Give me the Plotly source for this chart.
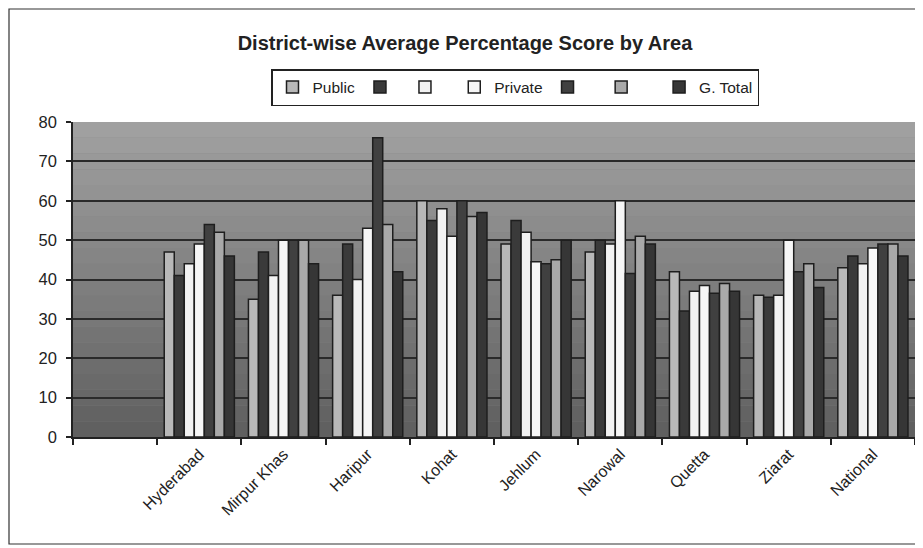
import plotly.graph_objects as go

districts = ["Hyderabad", "Mirpur Khas", "Haripur", "Kohat", "Jehlum",
             "Narowal", "Quetta", "Ziarat", "National"]
axis_categories = [" "] + districts

series_names = ["Public", "", " ", "Private", "  ", "   ", "G. Total"]
s1 = [47, 35, 36, 60, 49, 47, 42, 36, 43]
s2 = [41, 47, 49, 55, 55, 50, 32, 35.5, 46]
s3 = [44, 41, 40, 58, 52, 49, 37, 36, 44]
s4 = [49, 50, 53, 51, 44.5, 60, 38.5, 50, 48]
s5 = [54, 50, 76, 60, 44, 41.5, 36.5, 42, 49]
s6 = [52, 50, 54, 56, 45, 51, 39, 44, 49]
s7 = [46, 44, 42, 57, 50, 49, 37, 38, 46]
series_values = [s1, s2, s3, s4, s5, s6, s7]
series_colors = ["#b8b8b8", "#3a3a3a", "#f2f2f2", "#f6f6f6", "#404040", "#a9a9a9", "#363636"]

y_ticks = [0, 10, 20, 30, 40, 50, 60, 70, 80]

fig = go.Figure()
for name, vals, col in zip(series_names, series_values, series_colors):
    fig.add_trace(go.Bar(
        x=districts, y=vals, name=name,
        marker=dict(color=col, line=dict(color="#1e1e1e", width=1.5)),
        hoverinfo="x+y",
    ))

# page body has an 8px margin, so figure coordinates = screen - 8
OFF = 8
W, H = 923 - OFF, 548 - OFF
L, T = 73 - OFF, 122 - OFF
R = W - (915 - OFF)
B = H - (437 - OFF)

# graded plot-area background (scan look)
n_bands = 20
top_c, bot_c = 0xa0, 0x60
shapes = []
for i in range(n_bands):
    f = i / (n_bands - 1)
    v = int(round(bot_c + (top_c - bot_c) * f))
    shapes.append(dict(type="rect", xref="x domain", yref="y domain",
                       x0=0, x1=1, y0=i / n_bands, y1=(i + 1) / n_bands,
                       fillcolor=f"rgb({v},{v},{v})", line=dict(width=0),
                       layer="below"))
# outer chart border (figure-pixel positions converted to paper fractions)
pw, ph = W - L - R, H - T - B
bx0, bx1 = 1, 918 - OFF
by0, by1 = 1, 544 - OFF
shapes.append(dict(type="rect", xref="paper", yref="paper",
                   x0=(bx0 - L) / pw, x1=(bx1 - L) / pw,
                   y0=(H - B - by1) / ph, y1=(H - B - by0) / ph,
                   line=dict(color="#333333", width=1.2), fillcolor="rgba(0,0,0,0)",
                   layer="below"))

fig.update_layout(
    width=W, height=H,
    margin=dict(l=L, r=R, t=T, b=B, autoexpand=False),
    paper_bgcolor="white",
    plot_bgcolor="#808080",
    barmode="group",
    bargap=0.167,
    bargroupgap=0,
    font=dict(family="Liberation Sans, Arial", color="#222222"),
    title=dict(text="<b>District-wise Average Percentage Score by Area</b>",
               x=(465 - OFF) / W, xanchor="center", y=1 - (43 - OFF) / H, yanchor="middle",
               yref="container", xref="container",
               font=dict(size=20, color="#222222")),
    legend=dict(orientation="h", x=(515 - OFF - L) / pw, xanchor="center",
                y=1 + (T - (69 - OFF)) / ph, yanchor="top",
                bgcolor="white", bordercolor="#222222", borderwidth=1.5,
                font=dict(size=15.5, color="#222222"),
                itemwidth=30, tracegroupgap=0),
    shapes=shapes,
    showlegend=True,
)
fig.update_xaxes(type="category", categoryorder="array", categoryarray=axis_categories,
                 range=[-0.5, len(axis_categories) - 0.5],
                 tickson="boundaries", ticks="outside", ticklen=6, tickwidth=1.5,
                 tickcolor="#222222", showline=True, linecolor="#222222", linewidth=1.5,
                 tickangle=-45, tickfont=dict(size=16, color="#222222"),
                 showgrid=False)
fig.update_yaxes(range=[0, 80], tickvals=y_ticks, ticks="outside", ticklen=5,
                 tickwidth=1.5, tickcolor="#222222", ticklabelstandoff=6,
                 showline=True, linecolor="#222222", linewidth=1.5,
                 showgrid=True, gridcolor="#2a2a2a", gridwidth=2,
                 tickfont=dict(size=16.5, color="#222222"), zeroline=False)

fig.write_html("out.html")
